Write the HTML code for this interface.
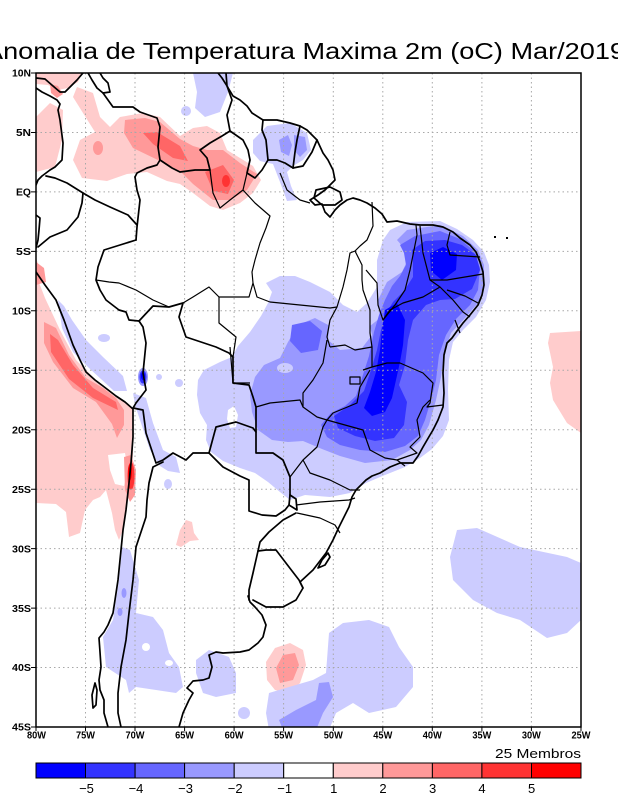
<!DOCTYPE html>
<html><head><meta charset="utf-8"><style>
html,body{margin:0;padding:0;background:#fff;}
svg{display:block;}
text{font-family:"Liberation Sans",sans-serif;}
</style></head><body>
<svg width="618" height="800" viewBox="0 0 618 800" xmlns="http://www.w3.org/2000/svg">
<defs><clipPath id="m"><rect x="36" y="73" width="545" height="654"/></clipPath></defs>
<rect width="618" height="800" fill="#fff"/>
<text x="305" y="59" font-size="23" text-anchor="middle" textLength="640" lengthAdjust="spacingAndGlyphs" fill="#000">Anomalia de Temperatura Maxima 2m (oC) Mar/2019</text>

<g clip-path="url(#m)">
<!-- pink regions -->
<g fill="#ffcccc">
<polygon points="36,73 82,73 78,82 68,88 58,90 48,85 36,84"/>
<polygon points="36,117 50,103 63,110 62,140 55,167 36,172"/>
<polygon points="73,97 77,87 93,93 100,117 110,127 120,117 143,113 160,117 180,136 193,128 207,126 220,133 227,150 253,166 261,180 253,193 240,203 223,210 210,206 193,193 180,184 167,181 147,172 127,174 107,181 82,178 73,160 80,140 95,132 83,113"/>
<polygon points="36,258 43,277 56,303 76,350 96,373 123,397 133,410 133,457 129,483 126,510 123,530 119,540 115,530 112,513 106,490 100,497 93,500 85,510 80,533 69,537 66,512 56,504 36,503"/>
<polygon points="176,545 180,530 186,520 192,522 194,533 199,540 190,541 181,547"/>
<polygon points="266,662 275,648 290,643 303,650 306,665 300,683 290,693 275,690 267,680"/>
<polygon points="550,333 581,331 581,433 567,423 553,400 550,383 553,367 548,343"/>
</g>
<polygon fill="#fff" points="108,455 125,453 128,470 124,486 115,484 110,470"/>
<polygon fill="#fff" points="41,272 56,300 70,335 84,357 100,372 120,388 132,398 132,405 118,398 96,380 76,360 60,330 45,298 38,280"/>
<g fill="#ff9999">
<polygon points="50,84 58,86 63,94 57,98 51,93"/>
<polygon points="125,120 145,118 160,122 180,139 193,146 207,150 223,150 240,163 257,174 247,190 230,200 213,200 193,184 180,171 160,161 133,148 124,133"/>
<ellipse cx="98" cy="148" rx="5" ry="7"/>
<polygon points="36,262 44,268 46,282 36,285"/>
<polygon points="44,322 56,328 69,355 86,378 103,388 116,398 124,410 124,425 117,438 112,424 96,402 73,388 53,362 44,343"/>
<polygon points="124,457 131,455 136,470 135,495 130,502 125,490"/>
<polygon points="276,668 283,655 295,653 299,665 293,680 280,683"/>
</g>
<g fill="#ff6666">
<polygon points="143,133 157,132 180,146 188,161 173,158 153,144"/>
<polygon points="205,172 223,165 234,180 228,194 213,191"/>
<polygon points="50,334 58,340 73,365 93,388 116,402 118,410 93,398 69,379 51,352"/>
</g>
<ellipse cx="226" cy="181" rx="4" ry="6" fill="#ff3333"/>
<ellipse cx="131" cy="476" rx="3.5" ry="14" fill="#ff3333"/>
<ellipse cx="130" cy="472" rx="2" ry="8" fill="#ff0000"/>

<!-- blue regions -->
<g fill="#ccccff">
<polygon points="383,240 390,230 407,222 440,221 457,229 473,240 484,252 489,265 490,282 486,300 476,317 463,330 453,342 449,360 448,390 449,420 443,436 432,449 420,458 405,467 385,475 366,483 350,493 330,497 305,495 290,500 280,492 268,482 255,473 240,468 223,461 211,452 206,440 207,425 200,413 197,395 198,380 204,370 220,362 232,357 238,346 250,332 261,316 268,303 272,292 266,283 280,276 295,276 310,282 330,292 343,305 357,312 367,303 377,287 377,260"/>
<polygon points="193,73 233,73 228,92 220,112 205,117 195,108 197,92"/>
<ellipse cx="186" cy="111" rx="5" ry="5"/>
<polygon points="253,140 267,126 290,123 307,133 311,150 303,160 293,166 287,172 291,186 297,200 287,201 280,182 273,164 260,161 253,153"/>
<polygon points="58,300 64,306 72,320 86,340 103,357 123,376 127,391 114,391 89,368 73,352 62,328"/>
<ellipse cx="104" cy="338" rx="6" ry="4"/>
<polygon points="133,393 146,398 153,423 163,450 176,457 180,473 168,471 160,466 150,450 140,420 135,405"/>
<ellipse cx="159" cy="377" rx="3" ry="3"/>
<ellipse cx="179" cy="383" rx="4" ry="4"/>
<ellipse cx="168" cy="484" rx="4" ry="5"/>
<polygon points="122,547 130,550 139,580 136,613 153,617 163,630 169,653 179,667 183,687 176,693 156,690 136,687 129,693 126,680 106,667 103,637 113,620 119,580"/>
<polygon points="196,660 209,650 229,657 236,673 236,693 216,697 203,693 196,673"/>
<ellipse cx="244" cy="713" rx="6" ry="6"/>
<polygon points="269,693 289,687 313,680 326,673 329,633 343,623 369,620 389,627 399,647 413,667 413,687 396,707 369,713 353,703 336,713 329,730 269,730 266,713"/>
<polygon points="457,530 477,528 520,547 567,557 581,563 581,620 567,633 547,638 520,620 497,613 473,600 453,580 450,557"/>
</g>
<g fill="#fff">
<polygon points="228,410 234,406 238,415 236,427 230,428 227,419"/>
<ellipse cx="146" cy="647" rx="4" ry="4"/>
<ellipse cx="169" cy="663" rx="4" ry="3"/>
</g>
<g fill="#9999ff">
<polygon points="397,240 407,230 440,225 463,236 478,250 484,265 484,285 478,303 465,318 451,333 444,355 441,377 436,400 429,425 421,440 410,450 392,460 365,463 340,456 322,449 303,441 288,442 272,440 258,430 252,412 250,395 255,377 264,365 280,358 288,342 298,325 315,318 330,326 350,327 370,326 380,318 378,300 387,282 402,272 409,257 403,247"/>
<polygon points="279,140 288,135 292,145 289,156 281,152"/>
<polygon points="294,135 305,137 307,150 300,157 294,150"/>
<ellipse cx="143" cy="377" rx="5" ry="9"/>
<ellipse cx="124" cy="593" rx="2.5" ry="5"/>
<ellipse cx="120" cy="612" rx="2.5" ry="4"/>
<polygon points="279,720 296,710 316,700 319,683 329,682 333,697 323,713 316,730 283,730"/>
</g>
<polygon fill="#ccccff" points="330,318 350,315 368,318 372,335 362,348 340,350 328,340"/>
<ellipse cx="285" cy="368" rx="8" ry="5" fill="#ccccff"/>
<g fill="#6666ff">
<polygon points="400,245 415,236 440,231 460,239 474,251 480,268 478,290 470,305 456,319 446,335 439,355 436,380 431,400 425,420 418,436 405,446 385,452 360,450 340,445 327,437 321,425 331,413 345,406 356,396 362,378 369,356 374,332 379,315 385,300 392,286 400,276 406,265 404,253"/>
<polygon points="292,325 310,321 322,331 318,350 301,353 290,341"/>
</g>
<g fill="#3333ff">
<polygon points="412,250 425,241 445,240 462,245 476,255 480,270 472,289 455,299 440,300 426,305 413,320 408,340 405,365 399,385 407,402 404,425 394,438 375,441 355,436 338,428 334,416 350,405 364,391 371,370 377,350 381,330 385,315 393,302 404,291 413,277 413,262"/>
<ellipse cx="143" cy="377" rx="3.5" ry="6.5"/>
</g>
<g fill="#0000ff">
<polygon points="385,310 397,303 405,320 403,345 400,362 396,380 392,398 385,412 372,416 364,408 370,392 376,372 380,350 382,330"/>
<polygon points="430,253 443,247 457,254 456,270 442,280 431,271"/>
<ellipse cx="143" cy="376" rx="2" ry="4"/>
</g>

<!-- grid -->
<g stroke="#a8a8a8" stroke-width="1" stroke-dasharray="1.5 3" fill="none">
<path d="M85.5 73V727M135 73V727M184.6 73V727M234.1 73V727M283.6 73V727M333.3 73V727M382.8 73V727M432.3 73V727M481.9 73V727M531.4 73V727"/>
<path d="M36 132.5H581M36 191.9H581M36 251.4H581M36 310.8H581M36 370.3H581M36 429.7H581M36 489.2H581M36 548.6H581M36 608.1H581M36 667.5H581"/>
</g>

<!-- coastlines & borders -->
<g fill="none" stroke="#000" stroke-width="1.7" stroke-linejoin="round" stroke-linecap="round">
<path d="M83,73 L77,80 L70,87 L65,92 M36,78 L45,79 L53,86 L60,92 L65,92 M36,88 L42,92 L50,96 L57,100 L60,104 L58,110 L60,120 L63,143 L62,160 L55,167 L50,170 L42,176 L38,180 L36,185"/>
<path d="M36,215 L40,218 L39,230 L38,240 L36,248"/>
<path d="M36,272 L45,285 L56,300 L64,320 L73,345 L80,360 L86,372 L95,380 L103,386 L116,396 L125,402 L133,409 L133,420 L133,437 L131,463 L129,483 L126,510 L123,530 L121,550 L118,580 L115,600 L113,613 L108,625 L104,632 L99,638 L100,652 L101,667 L99,680 L100,690 L104,700 L104,713 L108,727"/>
<path d="M95,683 L97,690 L96,705 L93,708 L92,695 Z"/>
<path d="M179,727 L183,713 L189,700 L193,693 L187,688 L193,681 L203,680 L209,678 L212,667 L209,655 L216,652 L223,653 L240,652 L249,650 L258,643 L263,637 L266,625 L262,615 L255,607 L250,602 L248,596"/>
<path d="M253,600 L266,607 L283,607 L296,600 L303,588 L300,582 L313,570 L326,553 L333,540 L339,527 L345,515 L349,507 L352,497 L356,490 L362,484 L366,480 L372,476 L380,473 L390,467 L400,463 L413,463 L418,456 L423,447 L430,435 L433,430 L438,420 L443,407 L444,393 L443,373 L444,355 L447,343 L452,338 L457,331 L463,323 L470,315 L478,305 L482,295 L484,285 L483,272 L480,262 L476,252 L470,245 L460,238 L453,232 L443,227 L433,225 L420,225 L410,224 L397,221 L387,222 L382,214 L375,208 L367,203 L360,200 L353,198 L347,200 L340,205 L335,210 L330,217 L325,212 L322,204 L315,205 L310,200 L318,195 L325,190 L330,185 L335,180 L333,170 L328,160 L323,153 L317,140 L307,130 L300,126 L290,123 L277,120 L263,120 L252,113 L247,106 L240,100 L233,96 L227,86 L222,78 L218,73"/>
<path d="M316,190 L330,187 L340,192 L342,200 L335,205 L322,205 L314,198 Z"/>
<path d="M318,568 L322,560 L328,553 L330,557 L325,565 Z"/>
<path d="M88,73 L92,80 L97,88 L103,93 L110,92 L108,83 L103,78 L100,73"/>
<!-- countries -->
<path d="M103,93 L113,107 L133,107 L140,112 L157,118 L160,127 L158,147 L160,160 L157,165 L147,168 L137,173 L135,177"/>
<path d="M160,160 L172,168 L180,172 L195,170 L210,170 L207,158 L200,150 L210,143 L222,136 L230,131"/>
<path d="M230,131 L227,115 L232,100 L227,86 L226,73"/>
<path d="M230,131 L243,140 L248,150 L250,160 L247,173 L255,178 L262,170 L268,160 L277,160 L285,163 L293,168 L303,166 L312,152 L317,140"/>
<path d="M263,120 L262,130 L266,140 L268,160 M300,126 L297,140 L295,152 L293,168"/>
<path d="M135,177 L137,190 L140,200 L137,227 L136,240"/>
<path d="M46,176 L55,178 L67,183 L83,193 L95,200 L110,207 L128,215 L137,225"/>
<path d="M83,193 L82,203 L78,217 L67,230 L50,237 L38,247"/>
<path d="M136,240 L120,245 L104,250 L98,267 L96,280 L100,290 L106,300 L119,310 L126,312 L129,320 L139,321"/>
<path d="M139,321 L153,306 L169,307 L183,303 L179,317 L186,337 L216,347 L229,353 L233,357 L233,383 L249,385 L253,397 L256,407 L256,427 L256,453 L273,453 L283,460 L290,477 L290,495"/>
<path d="M139,321 L143,327 L146,343 L143,373 L146,390 L136,403 L133,408 L143,410 L146,433 L156,463 L163,460 L173,453 L186,460 L193,453 L209,453"/>
<path d="M209,453 L216,427 L236,422 L253,428 L256,432"/>
<path d="M209,453 L223,467 L240,476 L249,480 L249,511 L262,515 L276,516 L285,510 L289,505 L290,495"/>
<path d="M163,462 L153,467 L149,483 L147,500 L146,517 L140,535 L136,547 L133,580 L129,613 L126,640 L121,667 L118,693 L118,713 L121,727"/>
<path d="M290,495 L296,499 L297,510 L289,505 M296,513 L283,520 L269,532 L260,542 L258,551 L253,573 L249,590 L249,600"/>
<path d="M258,551 L266,550 L276,550 L289,567 L299,580 L303,588"/>
</g>
<!-- Brazil states -->
<g fill="none" stroke="#000" stroke-width="1.2" stroke-linejoin="round">
<path d="M210,170 L213,193 L220,208 L230,200 L243,190 L247,173"/>
<path d="M243,190 L255,203 L270,216 L266,228 L260,243 L255,260 L252,272 L253,283 L257,297 L270,302 L300,305 L330,308 L337,307"/>
<path d="M253,283 L249,297 L219,297 L209,287 L193,297 L183,303 M96,280 L109,282 L119,283 L136,290 L153,300 L169,307"/>
<path d="M219,297 L219,323 L236,337 L233,357"/>
<path d="M280,173 L287,190 L300,200 L310,203"/>
<path d="M372,202 L373,226 L367,240 L360,246 L355,251 L350,253 L347,270 L343,287 L337,307 L330,320 L327,337 L330,347"/>
<path d="M355,251 L362,265 L362,280 L363,290 L370,310 L370,333 L372,347"/>
<path d="M330,347 L345,345 L355,350 L372,347 L372,367 L363,370"/>
<path d="M416,225 L417,235 L410,270 L405,290 L395,305 L383,320 L378,305 L377,283 L366,270"/>
<path d="M420,226 L423,253 L430,280 L440,287"/>
<path d="M383,320 L390,310 L403,303 L423,297 L440,287 L453,300 L463,312 L470,317"/>
<path d="M450,232 L447,245 L450,255 L480,257 M430,280 L447,280 L483,274 M447,290 L465,296 L478,303 M455,320 L460,333"/>
<path d="M372,367 L387,363 L400,363 L423,373 L433,383 L430,403 L427,407 L443,405"/>
<path d="M430,400 L423,407 L417,420 L420,437 L410,447 L417,453 L397,460 L385,458 L370,450 L363,430 L345,425 L327,420"/>
<path d="M397,460 L405,466"/>
<path d="M370,370 L360,387 L357,403 L333,413 L327,420"/>
<path d="M350,377 H360 V384 H350 Z"/>
<path d="M327,340 L323,363 L313,380 L303,393 L303,407 L317,417 L327,420"/>
<path d="M256,407 L270,403 L300,400 L303,407"/>
<path d="M327,420 L323,427 L317,447 L303,460 L290,477"/>
<path d="M303,460 L310,473 L330,480 L350,490 L360,490"/>
<path d="M296,505 L320,502 L349,500 L355,498"/>
<path d="M297,513 L320,518 L335,525 L340,533"/>
<path d="M230,347 L233,383 L250,383"/>
</g>
<rect x="494" y="236" width="2" height="2" fill="#000"/>
<rect x="506" y="237" width="2" height="2" fill="#000"/>
</g>

<!-- frame & ticks -->
<rect x="36" y="73" width="545" height="654" fill="none" stroke="#000" stroke-width="1.5"/>
<g stroke="#000" stroke-width="1">
<path d="M31 73H36M31 132.5H36M31 191.9H36M31 251.4H36M31 310.8H36M31 370.3H36M31 429.7H36M31 489.2H36M31 548.6H36M31 608.1H36M31 667.5H36M31 727H36"/>
<path d="M36 727V731M85.5 727V731M135 727V731M184.6 727V731M234.1 727V731M283.6 727V731M333.3 727V731M382.8 727V731M432.3 727V731M481.9 727V731M531.4 727V731M581 727V731"/>
</g>
<g font-size="10" font-weight="bold" text-anchor="end" fill="#000">
<text x="31" y="76.7" textLength="19" lengthAdjust="spacingAndGlyphs">10N</text>
<text x="31" y="136.2" textLength="15" lengthAdjust="spacingAndGlyphs">5N</text>
<text x="31" y="195.6" textLength="15" lengthAdjust="spacingAndGlyphs">EQ</text>
<text x="31" y="255.1" textLength="15" lengthAdjust="spacingAndGlyphs">5S</text>
<text x="31" y="314.5" textLength="19" lengthAdjust="spacingAndGlyphs">10S</text>
<text x="31" y="374" textLength="19" lengthAdjust="spacingAndGlyphs">15S</text>
<text x="31" y="433.4" textLength="19" lengthAdjust="spacingAndGlyphs">20S</text>
<text x="31" y="492.9" textLength="19" lengthAdjust="spacingAndGlyphs">25S</text>
<text x="31" y="552.3" textLength="19" lengthAdjust="spacingAndGlyphs">30S</text>
<text x="31" y="611.8" textLength="19" lengthAdjust="spacingAndGlyphs">35S</text>
<text x="31" y="671.2" textLength="19" lengthAdjust="spacingAndGlyphs">40S</text>
<text x="31" y="730.5" textLength="19" lengthAdjust="spacingAndGlyphs">45S</text>
</g>
<g font-size="10" font-weight="bold" text-anchor="middle" fill="#000">
<text x="36.5" y="738.5" textLength="19" lengthAdjust="spacingAndGlyphs">80W</text>
<text x="85.5" y="738.5" textLength="19" lengthAdjust="spacingAndGlyphs">75W</text>
<text x="135" y="738.5" textLength="19" lengthAdjust="spacingAndGlyphs">70W</text>
<text x="184.6" y="738.5" textLength="19" lengthAdjust="spacingAndGlyphs">65W</text>
<text x="234.1" y="738.5" textLength="19" lengthAdjust="spacingAndGlyphs">60W</text>
<text x="283.6" y="738.5" textLength="19" lengthAdjust="spacingAndGlyphs">55W</text>
<text x="333.3" y="738.5" textLength="19" lengthAdjust="spacingAndGlyphs">50W</text>
<text x="382.8" y="738.5" textLength="19" lengthAdjust="spacingAndGlyphs">45W</text>
<text x="432.3" y="738.5" textLength="19" lengthAdjust="spacingAndGlyphs">40W</text>
<text x="481.9" y="738.5" textLength="19" lengthAdjust="spacingAndGlyphs">35W</text>
<text x="531.4" y="738.5" textLength="19" lengthAdjust="spacingAndGlyphs">30W</text>
<text x="581" y="738.5" textLength="19" lengthAdjust="spacingAndGlyphs">25W</text>
</g>

<text x="581" y="758" font-size="13" text-anchor="end" textLength="86" lengthAdjust="spacingAndGlyphs" fill="#000">25 Membros</text>

<!-- colorbar -->
<g stroke="#000" stroke-width="1">
<rect x="36" y="763" width="49.5" height="15" fill="#0000ff"/>
<rect x="85.5" y="763" width="49.6" height="15" fill="#3333ff"/>
<rect x="135.1" y="763" width="49.5" height="15" fill="#6666ff"/>
<rect x="184.6" y="763" width="49.6" height="15" fill="#9999ff"/>
<rect x="234.2" y="763" width="49.5" height="15" fill="#ccccff"/>
<rect x="283.7" y="763" width="49.6" height="15" fill="#ffffff"/>
<rect x="333.3" y="763" width="49.5" height="15" fill="#ffcccc"/>
<rect x="382.8" y="763" width="49.6" height="15" fill="#ff9999"/>
<rect x="432.4" y="763" width="49.5" height="15" fill="#ff6666"/>
<rect x="481.9" y="763" width="49.6" height="15" fill="#ff3333"/>
<rect x="531.5" y="763" width="49.5" height="15" fill="#ff0000"/>
</g>
<g font-size="13" text-anchor="middle" fill="#000">
<text x="86.5" y="793">−5</text>
<text x="136" y="793">−4</text>
<text x="185.6" y="793">−3</text>
<text x="235.2" y="793">−2</text>
<text x="284.7" y="793">−1</text>
<text x="333.8" y="793">1</text>
<text x="383" y="793">2</text>
<text x="432.6" y="793">3</text>
<text x="482" y="793">4</text>
<text x="531.6" y="793">5</text>
</g>
</svg>
</body></html>
